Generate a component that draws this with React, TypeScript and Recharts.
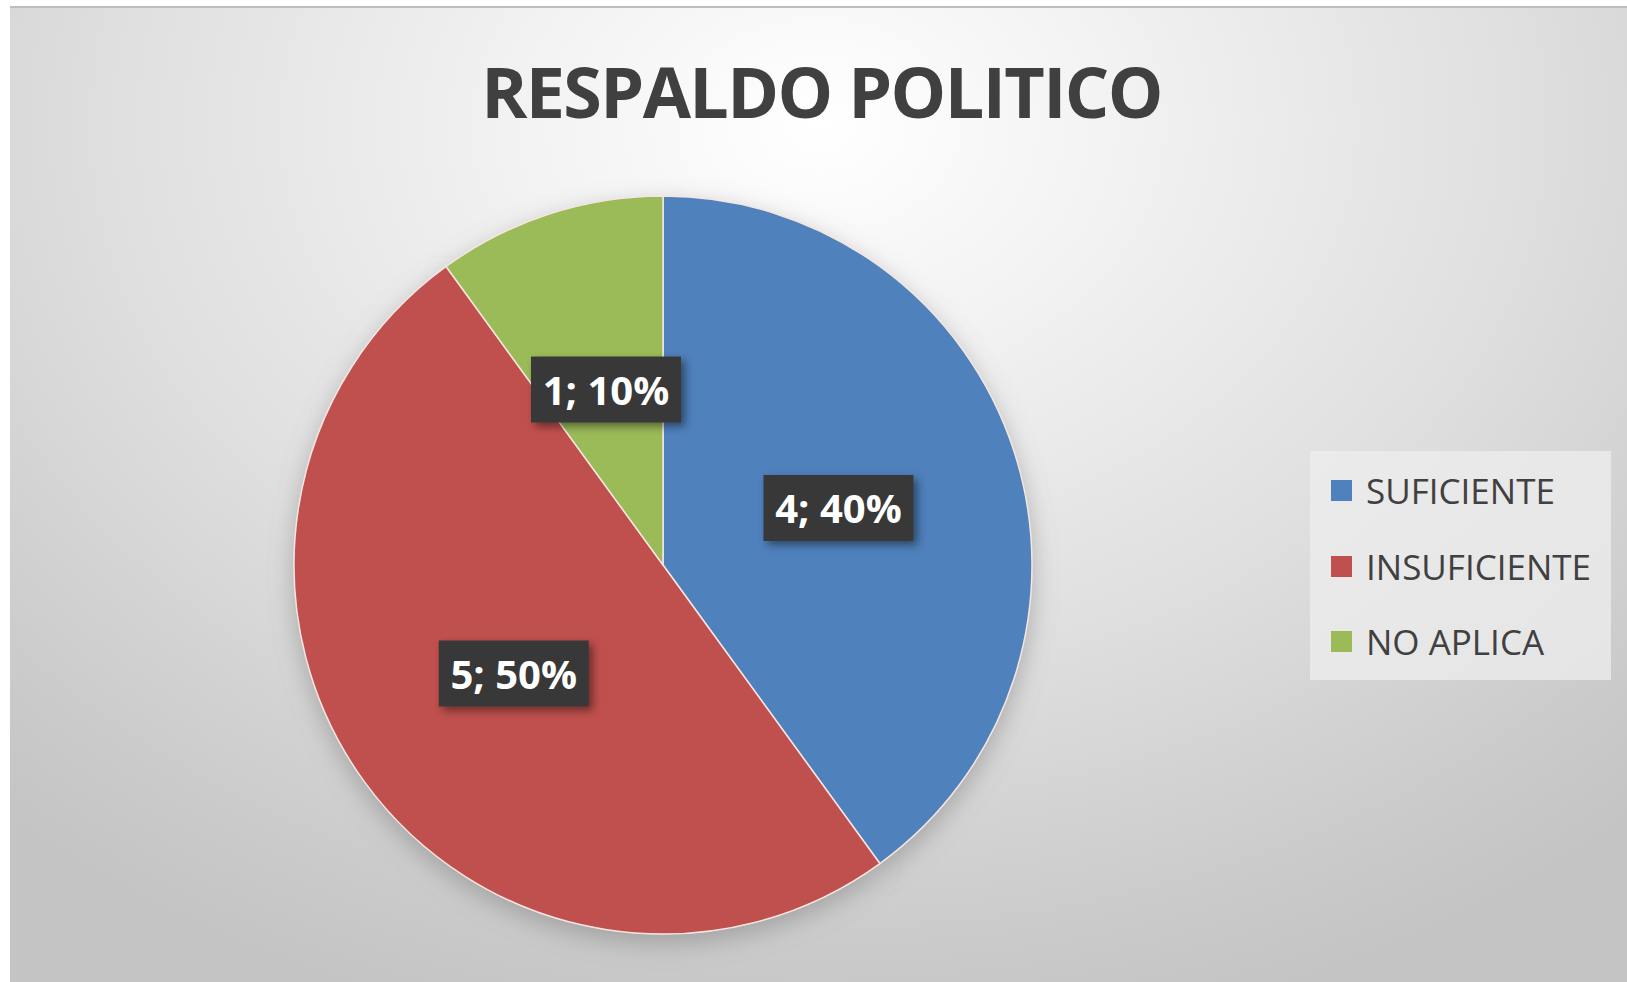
import React from 'react'
import { PieChart, Pie, Cell, Legend } from 'recharts'

// categories and values
const categories = ['SUFICIENTE', 'INSUFICIENTE', 'NO APLICA']
const counts = [4, 5, 1]
const percents = ['40%', '50%', '10%']
const colors = ['#4f81bd', '#c0504d', '#9bbb59']

const data = categories.map((name, i) => ({ name, value: counts[i], pct: percents[i] }))

const FONT = '"Open Sans", "Noto Sans", sans-serif'
const RAD = Math.PI / 180
const CX = 658
const CY = 560
const R = 369

function renderLabel(props: any) {
  const { cx, cy, midAngle, outerRadius, payload } = props
  const r = outerRadius * 0.5
  const x = cx + r * Math.cos(-midAngle * RAD)
  const y = cy + r * Math.sin(-midAngle * RAD)
  const w = 150
  const h = 66
  return (
    <g>
      <rect x={x - w / 2} y={y - h / 2} width={w} height={h} fill="#383838" filter="url(#lblShadow)" />
      <text
        x={x}
        y={y}
        textAnchor="middle"
        dominantBaseline="central"
        fill="#ffffff"
        fontFamily={FONT}
        fontWeight={700}
        fontSize={40}
      >
        {`${payload.value}; ${payload.pct}`}
      </text>
    </g>
  )
}

// legend drawn from the category list so the order matches the source
function LegendBox() {
  return (
    <div
      style={{
        width: 301,
        height: 229,
        background: 'rgba(238,238,238,0.75)',
        boxSizing: 'border-box',
        paddingTop: 2,
      }}
    >
      {categories.map((name, i) => (
        <div key={name} style={{ display: 'flex', alignItems: 'center', height: 75.5 }}>
          <span style={{ width: 21, height: 21, background: colors[i], marginLeft: 21, marginRight: 14 }} />
          <span style={{ fontFamily: FONT, fontSize: 35, color: '#404040', lineHeight: 1 }}>{name}</span>
        </div>
      ))}
    </div>
  )
}

export default function App() {
  return (
    <div style={{ position: 'absolute', left: 0, top: 0, width: 1627, height: 982, background: '#ffffff', overflow: 'hidden' }}>
      <svg width={0} height={0} style={{ position: 'absolute' }}>
        <defs>
          <filter id="lblShadow" x="-20%" y="-20%" width="150%" height="160%">
            <feDropShadow dx={4} dy={4} stdDeviation={4} floodColor="#000" floodOpacity={0.45} />
          </filter>
          <filter id="pieShadow" x="-20%" y="-20%" width="140%" height="140%">
            <feGaussianBlur stdDeviation={12} />
          </filter>
        </defs>
      </svg>
      <div
        style={{
          position: 'absolute',
          left: 10,
          top: 6,
          right: 0,
          bottom: 0,
          borderTop: '2px solid #bdbdbd',
          background:
            'radial-gradient(ellipse 75% 95% at 50% 12%, #ffffff 0%, #f2f2f2 25%, #dedede 60%, #cdcdcd 85%, #c4c4c4 100%)',
        }}
      />
      <div
        style={{
          position: 'absolute',
          left: 0,
          width: 1627,
          top: 48,
          textAlign: 'center',
          fontFamily: FONT,
          fontWeight: 700,
          fontSize: 70,
          letterSpacing: -1.6,
          color: '#404040',
          lineHeight: '86px',
          paddingLeft: 16,
          boxSizing: 'border-box',
        }}
      >
        RESPALDO POLITICO
      </div>
      <div style={{ position: 'absolute', left: 0, top: 0 }}>
        <PieChart width={1627} height={982}>
          {/* soft shadow under the pie */}
          <Pie
            data={data}
            dataKey="value"
            nameKey="name"
            cx={CX}
            cy={CY + 9}
            outerRadius={R + 1}
            startAngle={90}
            endAngle={-270}
            stroke="none"
            legendType="none"
            isAnimationActive={false}
          >
            {data.map((d) => (
              <Cell key={d.name} fill="#7a7a7a" fillOpacity={0.5} filter="url(#pieShadow)" />
            ))}
          </Pie>
          <Pie
            data={data}
            dataKey="value"
            nameKey="name"
            cx={CX}
            cy={CY}
            outerRadius={R}
            startAngle={90}
            endAngle={-270}
            stroke="#f6e6e2"
            strokeWidth={1.5}
            label={renderLabel}
            labelLine={false}
            isAnimationActive={false}
          >
            {data.map((d, i) => (
              <Cell key={d.name} fill={colors[i]} />
            ))}
          </Pie>
          <Legend
            content={<LegendBox />}
            layout="vertical"
            align="right"
            verticalAlign="top"
            wrapperStyle={{ left: 1310, top: 451, width: 301 }}
          />
        </PieChart>
      </div>
    </div>
  )
}
